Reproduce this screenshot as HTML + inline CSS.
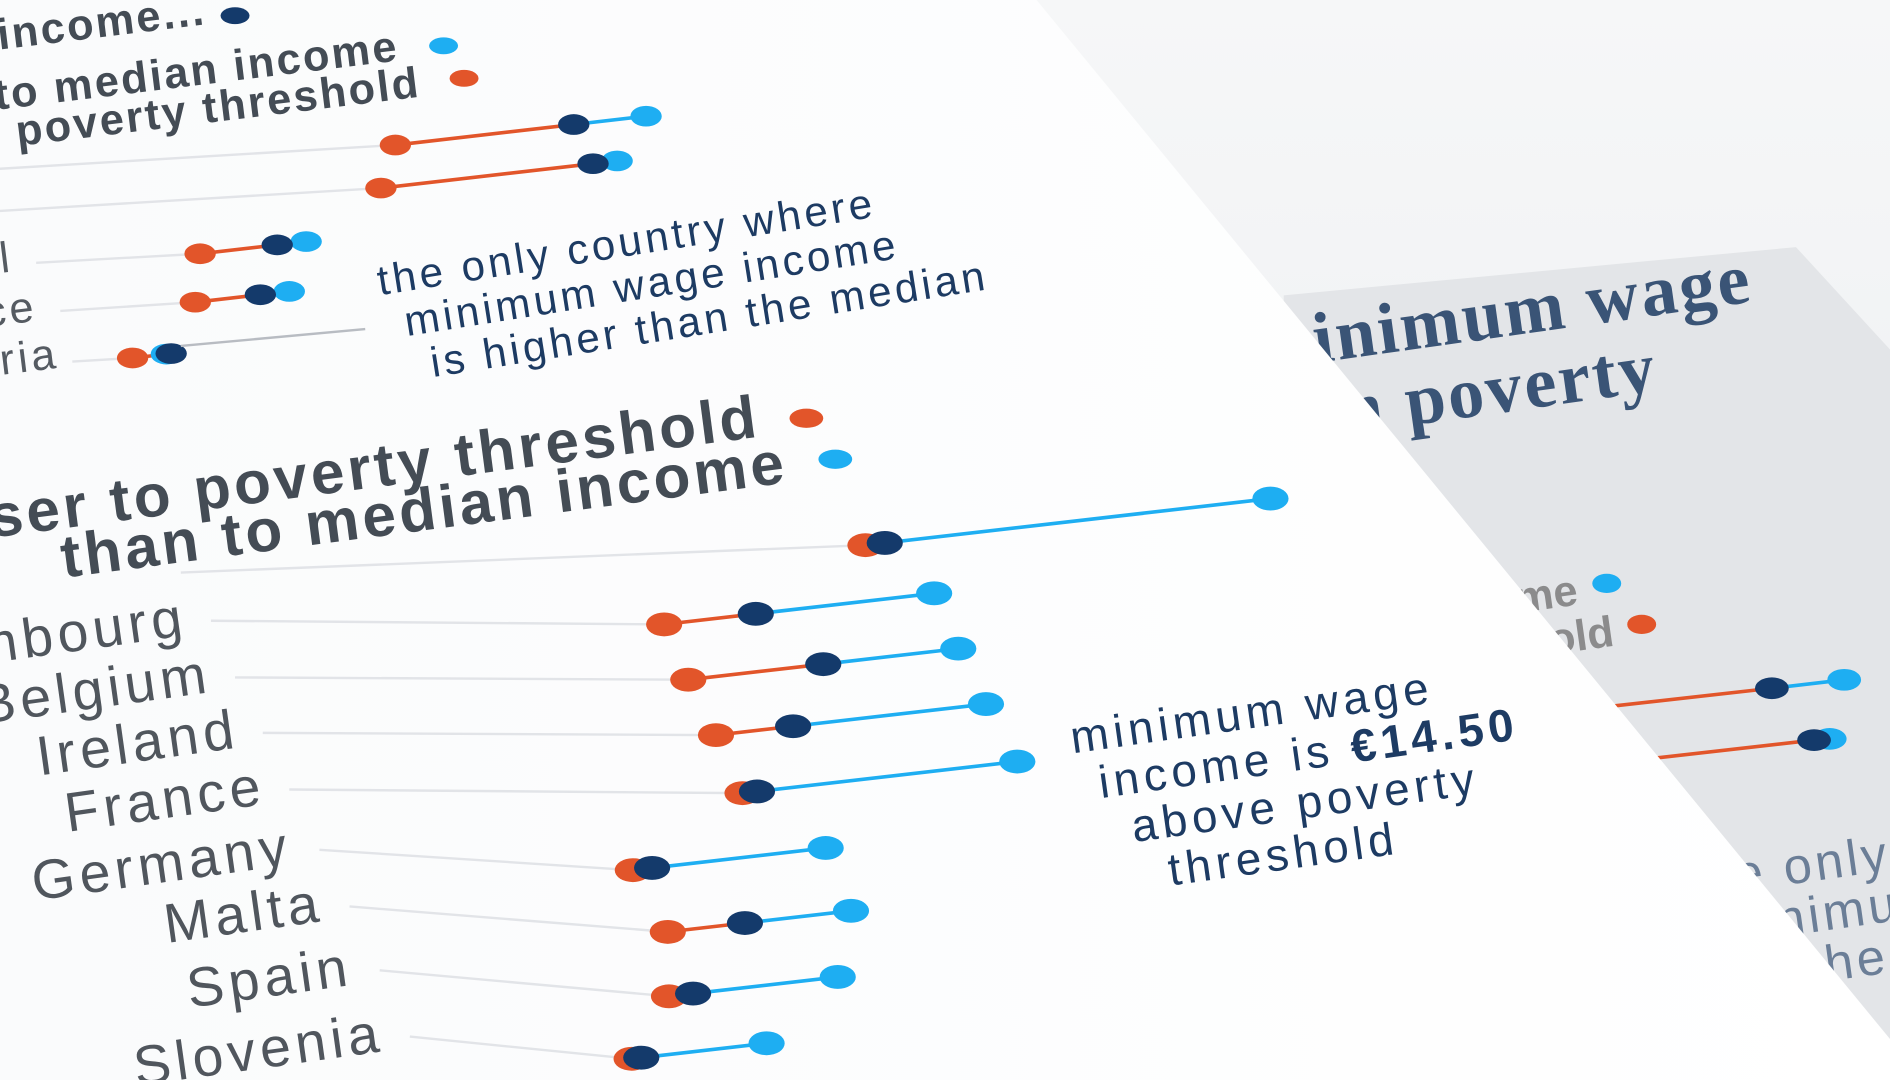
<!DOCTYPE html>
<html><head><meta charset="utf-8"><style>
html,body{margin:0;padding:0;width:1890px;height:1080px;overflow:hidden;background:#f1f2f4}
svg{display:block}
text{font-family:"Liberation Sans","DejaVu Sans",sans-serif}
</style></head><body>
<svg id="chart" width="1890" height="1080" viewBox="0 0 1568 896" preserveAspectRatio="none" xmlns="http://www.w3.org/2000/svg">
<defs>
<linearGradient id="bg" x1="0" y1="0" x2="0" y2="1"><stop offset="0" stop-color="#f6f7f8"/><stop offset="1" stop-color="#e9ebee"/></linearGradient>
<linearGradient id="pg" x1="0" y1="0" x2="1" y2="0"><stop offset="0" stop-color="#fafbfc"/><stop offset="1" stop-color="#ffffff"/></linearGradient>
</defs>
<rect x="0" y="0" width="1568" height="896" fill="url(#bg)"/>
<g>
<polygon points="1065,245 1490,205 1568,290 1568,896 1065,896" fill="#e3e5e8"/>
<g transform="rotate(-8 1100 300)" fill="#1d3b63" font-size="60" font-weight="bold" opacity="0.85">
<text x="1040" y="300" style="font-family:'Liberation Serif',serif" letter-spacing="2">minimum wage</text>
<text x="1010" y="362" style="font-family:'Liberation Serif',serif" letter-spacing="2">from poverty</text>
</g>
<g transform="rotate(-8 1320 500)" fill="#666" font-size="36" font-weight="bold" opacity="0.7">
<text x="1310" y="500" text-anchor="end">income</text>
<text x="1335" y="538" text-anchor="end">threshold</text>
</g>
<ellipse cx="1333" cy="484" rx="12" ry="8" fill="#1eaef2"/>
<ellipse cx="1362" cy="518" rx="12" ry="8" fill="#e2552a"/>
<line x1="1300" y1="590" x2="1470" y2="571" stroke="#e2552a" stroke-width="3"/>
<line x1="1470" y1="571" x2="1530" y2="564" stroke="#1eaef2" stroke-width="3"/>
<ellipse cx="1530" cy="564" rx="14" ry="9" fill="#1eaef2"/>
<ellipse cx="1470" cy="571" rx="14" ry="9" fill="#143a6b"/>
<line x1="1320" y1="635" x2="1505" y2="614" stroke="#e2552a" stroke-width="3"/>
<ellipse cx="1518" cy="613" rx="14" ry="9" fill="#1eaef2"/>
<ellipse cx="1505" cy="614" rx="14" ry="9" fill="#143a6b"/>
<g transform="rotate(-8 1440 740)" fill="#1d3b63" font-size="42" opacity="0.6" letter-spacing="3">
<text x="1400" y="740">the only country</text>
<text x="1420" y="782">minimum</text>
<text x="1440" y="824">higher</text>
</g>
</g>
<polygon points="0,0 860,0 1568,862 1568,896 0,896" fill="url(#pg)"/>

<g fill="#444c55" font-size="36" font-weight="bold" letter-spacing="2">
<text transform="rotate(-7 172 20)" x="172" y="20" text-anchor="end">Minimum wage income...</text>
<text transform="rotate(-7 332 50)" x="332" y="50" text-anchor="end">closer to median income</text>
<text transform="rotate(-7 350 80)" x="350" y="80" text-anchor="end">closer to poverty threshold</text>
</g>
<ellipse cx="195" cy="13" rx="12" ry="7" fill="#143a6b"/>
<ellipse cx="368" cy="38" rx="12" ry="7" fill="#1eaef2"/>
<ellipse cx="385" cy="65" rx="12" ry="7" fill="#e2552a"/>
<g fill="#555b62" font-size="36" letter-spacing="3">
<text transform="rotate(-7 12 225)" x="12" y="225" text-anchor="end">Portugal</text>
<text transform="rotate(-7 32 266)" x="32" y="266" text-anchor="end">Greece</text>
<text transform="rotate(-7 50 305)" x="50" y="305" text-anchor="end">Bulgaria</text>
</g>
<g transform="rotate(-9 315 245)" fill="#1d3b63" font-size="35" letter-spacing="3">
<text x="315" y="245">the only country where</text>
<text x="332" y="282">minimum wage income</text>
<text x="348" y="319">is higher than the median</text>
</g>

<g fill="#444c55" font-size="50" font-weight="bold" letter-spacing="3">
<text transform="rotate(-7.5 632 362)" x="632" y="362" text-anchor="end">closer to poverty threshold</text>
<text transform="rotate(-7.5 655 400)" x="655" y="400" text-anchor="end">than to median income</text>
</g>
<ellipse cx="669" cy="347" rx="14" ry="8" fill="#e2552a"/>
<ellipse cx="693" cy="381" rx="14" ry="8" fill="#1eaef2"/>

<g transform="rotate(-8 890 625)" fill="#1d3b63" font-size="38" letter-spacing="4">
<text x="890" y="625">minimum wage</text>
<text x="908" y="665">income is <tspan font-weight="bold">€14.50</tspan></text>
<text x="930" y="705">above poverty</text>
<text x="955" y="745">threshold</text>
</g>
<g id="marks"></g>
</svg>
<script>
// Bottom chart data (€/hour-ish units, estimated)
const botCountries = ["Netherlands","Luxembourg","Belgium","Ireland","France","Germany","Malta","Spain","Slovenia"];
const botPoverty = [14.2, 9.4, 9.4, 9.4, 9.4, 6.5, 6.6, 6.0, 4.6];
const botMinimum = [14.6, 11.3, 12.2, 11.0, 9.7, 6.9, 8.2, 6.5, 4.8];
const botMedian = [22.6, 15.0, 15.0, 15.0, 15.1, 10.5, 10.4, 9.5, 7.4];
// Top chart data
const topCountries = ["A","B","C","D","E"];
const topPoverty = [8.2, 7.9, 3.4, 2.8, 1.25];
const topMinimum = [11.9, 12.3, 5.0, 4.15, 2.05];
const topMedian = [13.4, 12.8, 5.6, 4.75, 1.95];

const svgNS="http://www.w3.org/2000/svg";
const g=document.getElementById('marks');
const K=40, SLOPE=-0.115;
// row geometry (layout)
const botX0=[150,175,195,218,240,265,290,315,340];
const botY0=[475,515,562,608,655,705,752,805,860];
const botGS=[-0.04,0.008,0.005,0.005,0.008,0.065,0.08,0.09,0.1];
const botLabelX=[0,155,175,198,220,242,268,292,318];
const topX0=[0,0,30,50,60], topY0=[140,175,218,258,300], topGS=[-0.06,-0.06,-0.055,-0.065,-0.06];
function mk(tag,attrs){const e=document.createElementNS(svgNS,tag);for(const k in attrs)e.setAttribute(k,attrs[k]);g.appendChild(e);return e;}
function xOf(v,x0,k){return x0+v*k;}
function drawRow(x0,y0,gs,k,pov,min,med,r,name){
  const xo=xOf(pov,x0,k), yo=y0+gs*(xo-x0);
  const yAt=x=>yo+SLOPE*(x-xo);
  const xm=xOf(min,x0,k), xd=xOf(med,x0,k);
  let l=mk('line',{x1:x0,y1:y0,x2:xo,y2:yo,stroke:'#e2e4e8','stroke-width':2});
  
  
  const xl=Math.min(xm,xd);
  let a=mk('line',{x1:xo,y1:yo,x2:xl,y2:yAt(xl),stroke:'#e2552a','stroke-width':3});
  
  
  if(xd>xm){let b=mk('line',{x1:xm,y1:yAt(xm),x2:xd,y2:yAt(xd),stroke:'#1eaef2','stroke-width':3});
  
  }
  let p=mk('ellipse',{cx:xo,cy:yo,rx:r,ry:r*0.66,fill:'#e2552a'});
  
  
  let d=mk('ellipse',{cx:xd,cy:yAt(xd),rx:r,ry:r*0.66,fill:'#1eaef2'});
  
  
  let m=mk('ellipse',{cx:xm,cy:yAt(xm),rx:r,ry:r*0.66,fill:'#143a6b'});
  
  
}
botCountries.forEach((c,i)=>{
  drawRow(botX0[i],botY0[i],botGS[i],K,botPoverty[i],botMinimum[i],botMedian[i],15,c.toLowerCase());
  if(i>0){const t=mk('text',{x:botLabelX[i],y:botY0[i]+12,'text-anchor':'end','font-size':46,'letter-spacing':4,fill:'#50565d',transform:`rotate(-8 ${botLabelX[i]} ${botY0[i]})`});
  t.textContent=c;
  
  }
});
topCountries.forEach((c,i)=>{
  drawRow(topX0[i],topY0[i],topGS[i],K,topPoverty[i],topMinimum[i],topMedian[i],13,'top-row-'+c.toLowerCase());
});
const ext=mk('line',{x1:150,y1:287,x2:303,y2:273,stroke:'#b8bcc2','stroke-width':2});


</script>
</body></html>
